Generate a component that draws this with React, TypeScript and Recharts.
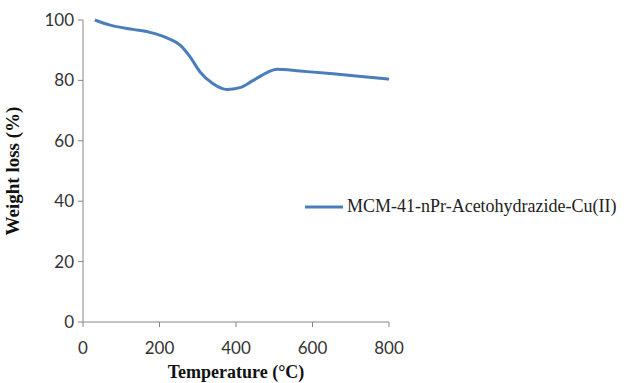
import React from "react";
import { LineChart, Line, XAxis, YAxis } from "recharts";

const temperatures = [31, 71, 131, 175, 219, 254, 280, 306, 340, 376, 410, 445, 481, 507, 567, 654, 742, 800];
const weights = [100, 98.3, 96.9, 95.9, 94.1, 91.7, 87.8, 82.8, 78.9, 77.0, 77.6, 80.0, 82.6, 83.7, 83.1, 82.2, 81.1, 80.4];
const xTicks = [0, 200, 400, 600, 800];
const yTicks = [0, 20, 40, 60, 80, 100];
const seriesName = "MCM-41-nPr-Acetohydrazide-Cu(II)";

const data = temperatures.map((t, i) => ({ t, w: weights[i] }));

const LINE_COLOR = "#4a7ebb";
const AXIS_COLOR = "#868686";
const SERIF = "'Liberation Serif', 'Times New Roman', serif";
const tickFont = { fontFamily: "Lato, 'Open Sans', sans-serif", fontSize: 17, fill: "#333" };

export default function App() {
  return (
    <div style={{ position: "absolute", left: 0, top: 0, width: 632, height: 383, background: "#fff" }}>
      <LineChart width={632} height={383} data={data} margin={{ top: 20, right: 243, left: 0, bottom: 0 }}>
        <XAxis
          dataKey="t"
          type="number"
          domain={[0, 800]}
          ticks={xTicks}
          stroke={AXIS_COLOR}
          tickLine={{ stroke: AXIS_COLOR }}
          tickSize={5}
          tickMargin={15}
          tick={tickFont}
          height={61}
          label={{
            value: "Temperature (°C)",
            position: "insideBottom",
            offset: 5,
            style: { fontFamily: SERIF, fontWeight: "bold", fontSize: 18, fill: "#111" },
          }}
        />
        <YAxis
          type="number"
          domain={[0, 100]}
          ticks={yTicks}
          stroke={AXIS_COLOR}
          tickLine={{ stroke: AXIS_COLOR }}
          tickSize={5}
          tickMargin={4}
          tick={tickFont}
          width={83}
          label={{
            value: "Weight loss (%)",
            angle: -90,
            position: "insideLeft",
            offset: 12,
            style: { textAnchor: "middle", fontFamily: SERIF, fontWeight: "bold", fontSize: 19, fill: "#111" },
          }}
        />
        <Line
          type="monotone"
          dataKey="w"
          name={seriesName}
          stroke={LINE_COLOR}
          strokeWidth={3}
          dot={false}
          isAnimationActive={false}
        />
      </LineChart>
      <div style={{ position: "absolute", left: 305, top: 196, display: "flex", alignItems: "center", whiteSpace: "nowrap" }}>
        <svg width={40} height={10}>
          <line x1={0} y1={5} x2={38} y2={5} stroke={LINE_COLOR} strokeWidth={3} />
        </svg>
        <span style={{ fontFamily: SERIF, fontSize: 18, color: "#222", marginLeft: 2 }}>{seriesName}</span>
      </div>
    </div>
  );
}
